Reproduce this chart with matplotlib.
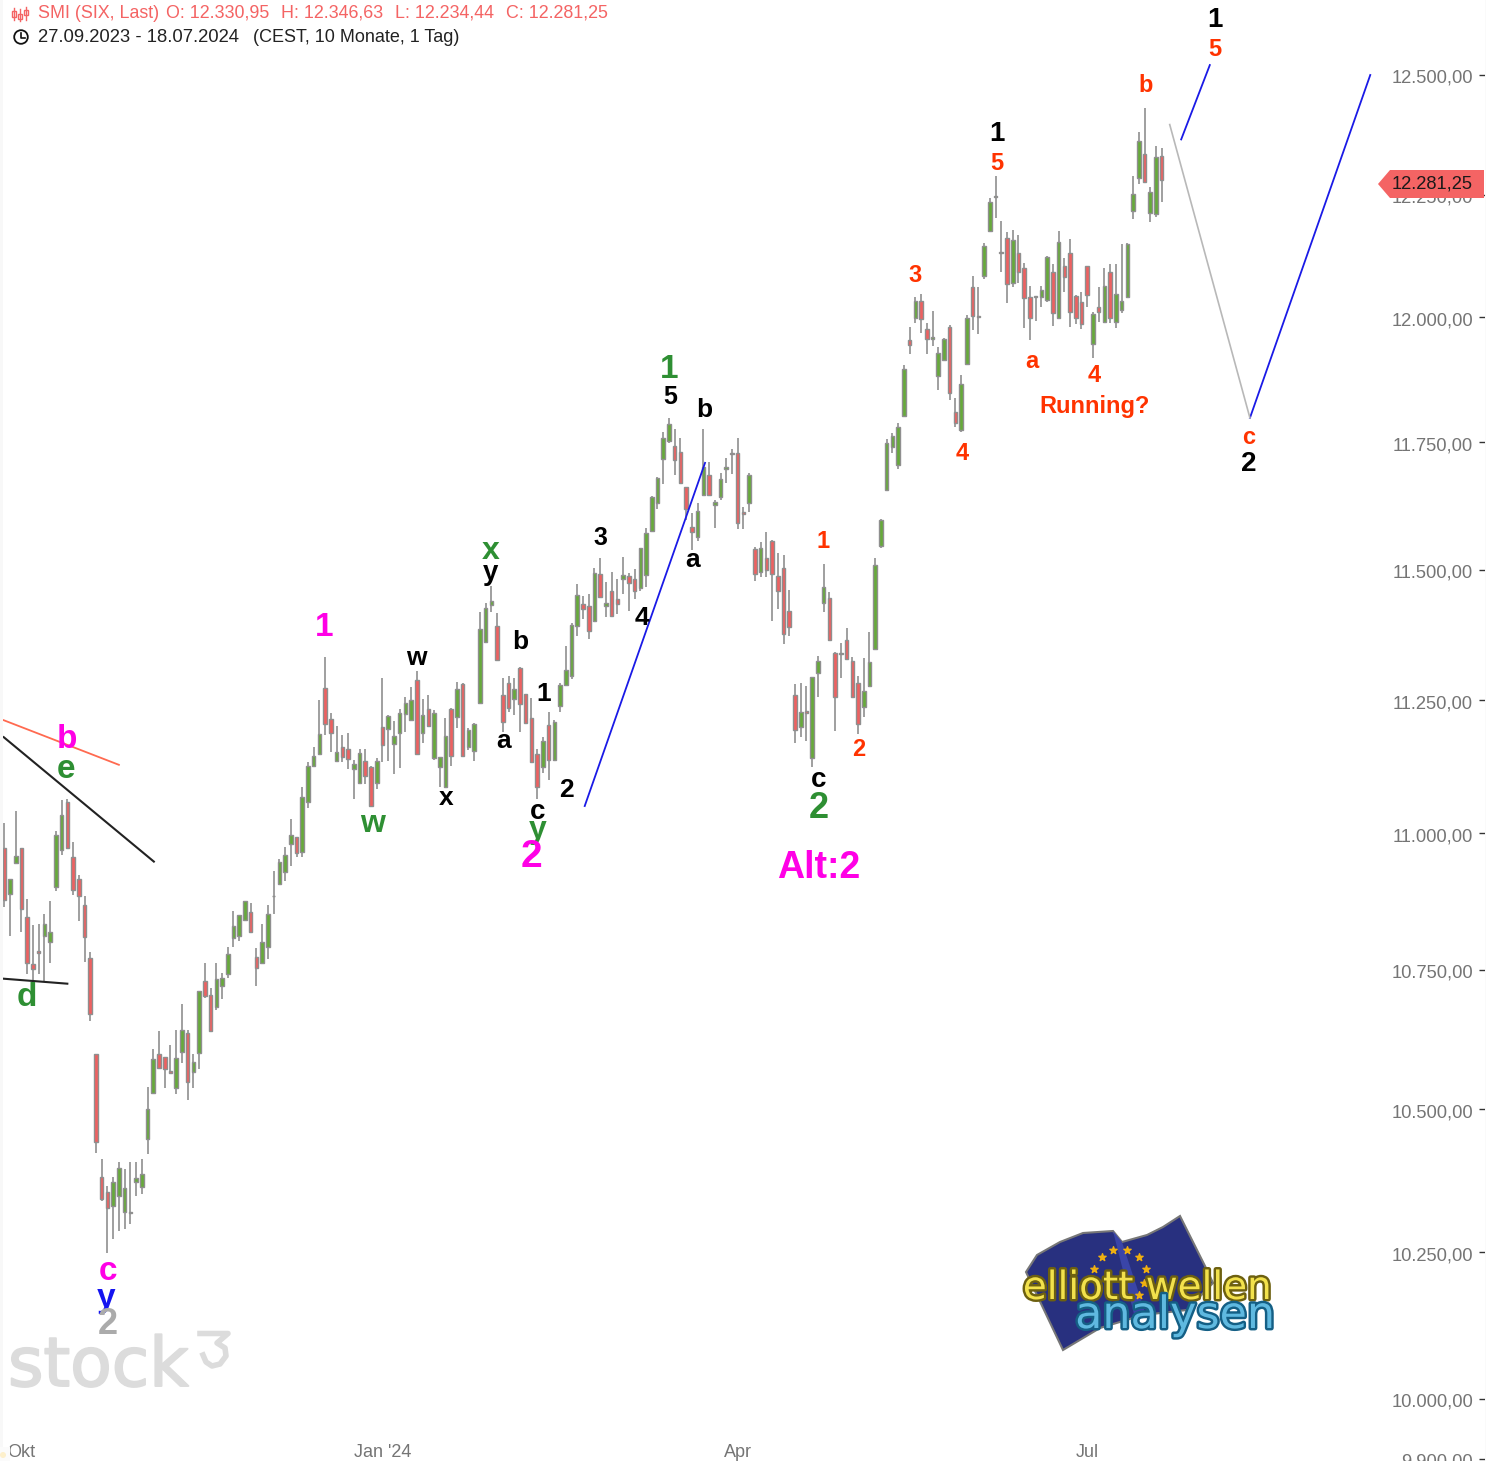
import matplotlib
matplotlib.use('Agg')
import matplotlib.pyplot as plt
import matplotlib.patheffects as pe
from matplotlib.patches import Polygon, Circle, Rectangle
from matplotlib.ticker import NullLocator
from matplotlib.transforms import ScaledTranslation
import numpy as np

W, H = 1486, 1461

# daily candles
opens = [
    10974, 10889, 10946, 10974, 10847, 10760, 10785, 10812, 10800, 10902,
    10970, 11058, 10957, 10915, 10869, 10772, 10598, 10381, 10355, 10330,
    10348, 10320, 10318, 10373, 10364, 10448, 10530, 10599, 10594, 10569,
    10538, 10603, 10637, 10567, 10601, 10729, 10705, 10683, 10720, 10743,
    10807, 10812, 10840, 10856, 10774, 10762, 10791, 10884, 10907, 10928,
    10981, 10994, 10966, 11058, 11126, 11148, 11273, 11214, 11135, 11162,
    11158, 11120, 11094, 11135, 11124, 11094, 11199, 11195, 11167, 11188,
    11224, 11212, 11288, 11188, 11233, 11141, 11124, 11086, 11233, 11218,
    11281, 11162, 11154, 11244, 11361, 11432, 11392, 11260, 11283, 11252,
    11311, 11262, 11216, 11148, 11124, 11203, 11137, 11239, 11279, 11296,
    11392, 11434, 11430, 11402, 11492, 11429, 11458, 11444, 11483, 11487,
    11483, 11465, 11489, 11576, 11630, 11717, 11753, 11743, 11731, 11662,
    11584, 11564, 11646, 11686, 11626, 11642, 11697, 11729, 11729, 11613,
    11630, 11541, 11496, 11522, 11555, 11487, 11504, 11421, 11260, 11199,
    11229, 11141, 11302, 11436, 11446, 11340, 11338, 11365, 11325, 11283,
    11237, 11277, 11348, 11547, 11656, 11741, 11705, 11802, 11953, 11999,
    12033, 11977, 11955, 11882, 11914, 11981, 11810, 11775, 11906, 12062,
    12001, 12084, 12176, 12246, 12133, 12161, 12070, 12131, 12099, 12041,
    12041, 12041, 12035, 12092, 11999, 12103, 12131, 12043, 12031, 12103,
    11945, 12021, 11991, 12092, 11991, 12015, 12041, 12217, 12284, 12334,
    12213, 12211, 12330.95,
]
highs = [
    11020, 10915, 11042, 10974, 10880, 10831, 10833, 10851, 10876, 11005,
    11062, 11064, 10985, 10924, 10884, 10783, 10599, 10413, 10366, 10381,
    10408, 10396, 10408, 10408, 10413, 10540, 10608, 10639, 10594, 10615,
    10642, 10689, 10642, 10599, 10712, 10763, 10718, 10763, 10745, 10792,
    10858, 10849, 10876, 10871, 10789, 10833, 10869, 10931, 10953, 10975,
    11027, 10994, 11086, 11133, 11162, 11250, 11333, 11226, 11201, 11184,
    11188, 11137, 11158, 11158, 11126, 11141, 11292, 11222, 11211, 11233,
    11256, 11275, 11306, 11252, 11260, 11231, 11143, 11216, 11235, 11285,
    11283, 11197, 11207, 11419, 11436, 11469, 11417, 11292, 11296, 11292,
    11313, 11262, 11254, 11158, 11180, 11228, 11212, 11283, 11354, 11398,
    11473, 11450, 11454, 11504, 11523, 11477, 11496, 11483, 11525, 11494,
    11502, 11543, 11582, 11644, 11682, 11771, 11797, 11777, 11759, 11662,
    11611, 11630, 11777, 11711, 11636, 11689, 11719, 11737, 11759, 11622,
    11689, 11545, 11553, 11574, 11558, 11533, 11529, 11461, 11281, 11283,
    11277, 11294, 11334, 11512, 11456, 11342, 11358, 11388, 11333, 11296,
    11331, 11379, 11523, 11599, 11757, 11769, 11788, 11904, 11981, 12041,
    12047, 11989, 12013, 11939, 11959, 11985, 11838, 11884, 12005, 12084,
    12062, 12152, 12244, 12290, 12196, 12174, 12178, 12168, 12111, 12064,
    12043, 12064, 12125, 12109, 12176, 12121, 12160, 12045, 12051, 12105,
    12011, 12062, 12099, 12109, 12109, 12148, 12152, 12290, 12381, 12431,
    12267, 12352, 12346.63,
]
lows = [
    10865, 10812, 10946, 10818, 10742, 10729, 10743, 10729, 10763, 10893,
    10961, 10974, 10887, 10838, 10765, 10658, 10424, 10339, 10249, 10273,
    10287, 10291, 10299, 10348, 10352, 10422, 10530, 10572, 10538, 10565,
    10528, 10583, 10517, 10538, 10571, 10700, 10639, 10678, 10698, 10736,
    10792, 10803, 10840, 10818, 10720, 10760, 10769, 10851, 10906, 10913,
    10939, 10957, 10957, 11047, 11124, 11148, 11184, 11152, 11133, 11133,
    11120, 11064, 11092, 11092, 11051, 11083, 11133, 11135, 11111, 11122,
    11190, 11211, 11147, 11169, 11199, 11137, 11086, 11086, 11126, 11197,
    11143, 11156, 11135, 11242, 11359, 11419, 11327, 11190, 11228, 11222,
    11190, 11205, 11133, 11064, 11113, 11100, 11135, 11228, 11277, 11290,
    11373, 11404, 11367, 11400, 11448, 11408, 11409, 11415, 11454, 11421,
    11444, 11459, 11467, 11576, 11619, 11668, 11749, 11686, 11670, 11597,
    11539, 11555, 11646, 11646, 11582, 11636, 11670, 11687, 11580, 11580,
    11613, 11479, 11485, 11485, 11402, 11425, 11356, 11373, 11169, 11180,
    11173, 11124, 11256, 11419, 11363, 11192, 11292, 11327, 11256, 11186,
    11218, 11275, 11348, 11543, 11656, 11729, 11697, 11800, 11926, 11989,
    11969, 11926, 11941, 11854, 11912, 11834, 11779, 11771, 11906, 11975,
    11967, 12078, 12174, 12202, 12092, 12029, 12062, 12070, 11979, 11953,
    11993, 12021, 12031, 11983, 11997, 12051, 11981, 11987, 11977, 12021,
    11918, 11991, 11989, 11989, 11979, 12009, 12041, 12201, 12273, 12275,
    12194, 12205, 12234.44,
]
closes = [
    10878, 10915, 10959, 10860, 10762, 10752, 10780, 10834, 10818, 10998,
    11034, 10974, 10895, 10884, 10809, 10671, 10443, 10343, 10327, 10373,
    10397, 10362, 10320, 10380, 10387, 10501, 10589, 10574, 10572, 10565,
    10592, 10642, 10549, 10585, 10712, 10703, 10639, 10734, 10736, 10778,
    10829, 10849, 10876, 10818, 10754, 10800, 10851, 10885, 10948, 10961,
    10998, 10964, 11068, 11126, 11145, 11186, 11205, 11188, 11152, 11143,
    11139, 11130, 11150, 11107, 11051, 11135, 11165, 11220, 11182, 11226,
    11244, 11250, 11148, 11222, 11201, 11226, 11143, 11182, 11145, 11271,
    11145, 11194, 11205, 11386, 11427, 11440, 11327, 11209, 11235, 11271,
    11242, 11207, 11133, 11086, 11173, 11137, 11209, 11279, 11308, 11394,
    11452, 11425, 11382, 11494, 11448, 11436, 11411, 11434, 11490, 11475,
    11459, 11543, 11572, 11642, 11680, 11759, 11786, 11715, 11670, 11619,
    11574, 11615, 11701, 11646, 11632, 11678, 11701, 11727, 11591, 11609,
    11686, 11492, 11543, 11500, 11492, 11459, 11377, 11390, 11194, 11228,
    11226, 11294, 11325, 11467, 11365, 11256, 11340, 11329, 11256, 11205,
    11267, 11323, 11510, 11597, 11749, 11763, 11780, 11896, 11943, 12033,
    11997, 11955, 11961, 11928, 11957, 11848, 11788, 11866, 11999, 12003,
    12003, 12144, 12236, 12248, 12131, 12068, 12158, 12092, 12039, 11999,
    12043, 12056, 12123, 12009, 12154, 12082, 12011, 11999, 11987, 12045,
    12007, 12011, 12064, 11999, 12047, 12033, 12148, 12252, 12361, 12277,
    12255, 12329, 12281.25,
]

y_ticks = [9900, 10000, 10250, 10500, 10750, 11000, 11250, 11500, 11750, 12000, 12250, 12500]
y_labels = ['9.900,00', '10.000,00', '10.250,00', '10.500,00', '10.750,00', '11.000,00',
            '11.250,00', '11.500,00', '11.750,00', '12.000,00', '12.250,00', '12.500,00']
x_ticks = [3, 66, 128, 189]
x_labels = ['Okt', "Jan '24", 'Apr', 'Jul']

# drawn lines: bar index and price at both ends
trend_lines = [
    ([-0.1, 26.1], [11180, 10948], '#222222', 1.5),
    ([-0.1, 20.0], [11212, 11128], '#ff6a50', 1.3),
    ([-0.1, 11.0], [10734, 10725], '#222222', 1.5),
    ([101.3, 122.3], [11051, 11709], '#1a1ae6', 1.3),
    ([205.4, 210.4], [12365, 12521], '#1a1ae6', 1.3),
    ([217.4, 238.4], [11798, 12500], '#1a1ae6', 1.3),
    ([203.4, 217.4], [12396, 11798], '#b8b8b8', 1.2),
]

MAG, GRN, RED, BLK, BLU, GRY = '#ff00e6', '#2e8f33', '#ff3300', '#000000', '#1414f0', '#ababab'

# wave labels: text, pixel centre, colour, size
wave_labels = [
    ('1', 325, 625, MAG, 24), ('b', 67, 738, MAG, 24), ('e', 67, 767, GRN, 24),
    ('d', 27, 996, GRN, 24), ('c', 108, 1270, MAG, 24), ('y', 107, 1297, BLU, 24),
    ('2', 108, 1322, GRY, 26), ('w', 417, 656, BLK, 19), ('w', 373, 822, GRN, 23),
    ('x', 447, 796, BLK, 19), ('x', 491, 549, GRN, 23), ('y', 491, 571, BLK, 20),
    ('b', 521, 640, BLK, 19), ('a', 504, 739, BLK, 19), ('1', 544, 692, BLK, 19),
    ('2', 567, 788, BLK, 19), ('c', 538, 810, BLK, 20), ('y', 538, 828, GRN, 23),
    ('2', 532, 855, MAG, 28), ('3', 601, 536, BLK, 18), ('4', 642, 616, BLK, 19),
    ('1', 670, 368, GRN, 24), ('5', 671, 395, BLK, 18), ('b', 705, 408, BLK, 19),
    ('a', 693, 558, BLK, 19), ('c', 819, 778, BLK, 20), ('2', 819, 806, GRN, 26),
    ('Alt:2', 819, 866, MAG, 27), ('1', 824, 539, RED, 17), ('2', 859, 747, RED, 17),
    ('3', 916, 273, RED, 17), ('4', 963, 452, RED, 17), ('1', 997, 132, BLK, 20),
    ('5', 997, 161, RED, 17), ('a', 1032, 360, RED, 17), ('4', 1095, 374, RED, 17),
    ('Running?', 1095, 404, RED, 17), ('b', 1146, 84, RED, 17), ('1', 1215, 18, BLK, 20),
    ('5', 1215, 47, RED, 17), ('c', 1249, 436, RED, 17), ('2', 1249, 462, BLK, 20),
]

plt.rcParams['font.family'] = ['Liberation Sans', 'DejaVu Sans']

fig = plt.figure(figsize=(W / 100, H / 100), dpi=100)
ax = fig.add_axes([0, 0, 1, 1])

# Candles
idx = np.arange(len(opens))
o, h, l, c = map(np.array, (opens, highs, lows, closes))
up = c >= o
ax.vlines(idx, l, h, color='#858585', lw=1.1, zorder=2)
ax.bar(idx, np.abs(c - o), bottom=np.minimum(o, c), width=0.62,
       color=np.where(up, '#66aa3a', '#ee6060'), edgecolor='#8f8f8f', linewidth=1.0, zorder=3)

# Axes
ax.set_yscale('log')
ax.set_xlim(-0.75, 258.6)
ax.set_ylim(9896, 12659)
for s in ax.spines.values():
    s.set_visible(False)
ax.yaxis.tick_right()
ax.set_yticks(y_ticks)
ax.set_yticklabels(y_labels, ha='right')
ax.yaxis.set_minor_locator(NullLocator())
ax.tick_params(axis='y', direction='in', length=5, width=1.0, color='#333333',
               pad=-9.4, labelsize=13.2, labelcolor='#757575')
for lab in ax.get_yticklabels():
    lab.set_transform(lab.get_transform() + ScaledTranslation(0, -1 / 72, fig.dpi_scale_trans))
ax.set_xticks(x_ticks)
ax.set_xticklabels(x_labels)
ax.tick_params(axis='x', length=0, pad=-12, labelsize=13, labelcolor='#757575')

# Trend lines
for xs, ys, col, lw in trend_lines:
    ax.plot(xs, ys, color=col, lw=lw, zorder=4, clip_on=False)

# overlay in picture pixels for everything that is not data
ov = fig.add_axes([0, 0, 1, 1], zorder=10)
ov.set_xlim(0, W)
ov.set_ylim(H, 0)
ov.axis('off')
ov.patch.set_alpha(0)

# pale strips at the edges
ov.add_patch(Rectangle((0, 0), 3, H, fc='#f8f8f8', ec='none'))
ov.add_patch(Rectangle((1485, 0), 1, H, fc='#fafafa', ec='none'))
ov.add_patch(Rectangle((0, 1447), 10, 14, fc='#fbfbfb', ec='none'))
ov.add_patch(Circle((3, 1455), 3, fc='#fdf0cc', ec='none'))

# Wave labels
for s, x, y, col, size in wave_labels:
    ov.text(x - 0.5, y + 2, s, color=col, fontsize=size, fontweight='bold', ha='center', va='center')

# Header
hdr_red = '#f46464'
for x, s in [(38, 'SMI (SIX, Last)'), (166, 'O: 12.330,95'), (281, 'H: 12.346,63'),
             (395, 'L: 12.234,44'), (506, 'C: 12.281,25')]:
    ov.text(x, 13.5, s, color=hdr_red, fontsize=12.9, ha='left', va='center')
ov.text(38, 38, '27.09.2023 - 18.07.2024', color='#222222', fontsize=13.3, ha='left', va='center')
ov.text(253, 38, '(CEST, 10 Monate, 1 Tag)', color='#222222', fontsize=13, ha='left', va='center')

# Header icons
ov.add_patch(Circle((21, 37), 6.8, fill=False, ec='#111111', lw=1.3))
ov.plot([21, 21, 25], [33, 38, 38], color='#111111', lw=1.2)
for ix, y0, y1, b0, b1 in [(14, 8, 20, 11, 17), (20, 9, 21, 14, 19), (26, 7, 20, 10, 15)]:
    ov.plot([ix, ix], [y0, y1], color=hdr_red, lw=1)
    ov.add_patch(Polygon([(ix - 1.6, b0), (ix + 1.6, b0), (ix + 1.6, b1), (ix - 1.6, b1)],
                         fill=False, ec=hdr_red, lw=1))

# Last price tag
ov.add_patch(Polygon([(1378, 184), (1390, 170), (1484, 170), (1484, 198), (1390, 198)],
                     fc='#f46464', ec='none'))
ov.text(1473, 184, '12.281,25', color='#1a1a1a', fontsize=13.2, ha='right', va='center')

# Watermark
ov.text(8, 1386, 'stock', color='#dcdcdc', fontsize=49, family='DejaVu Sans', ha='left', va='baseline',
        path_effects=[pe.withStroke(linewidth=1.4, foreground='#dcdcdc')])
ov.plot([200, 228, 217, 225, 226, 220, 212, 206, 203],
        [1333.5, 1333.5, 1343, 1348, 1356, 1364, 1366, 1362, 1355], color='#dcdcdc', lw=4)

# Logo
ov.add_patch(Polygon([(1026, 1272), (1037, 1255), (1060, 1242), (1083, 1233), (1113, 1231),
                      (1122, 1242), (1147, 1235), (1163, 1227), (1180, 1216), (1208, 1272),
                      (1213, 1283), (1187, 1310), (1143, 1315), (1100, 1328), (1063, 1350)],
                     fc='#28307f', ec='#777777', lw=1.5))
ov.add_patch(Polygon([(1113, 1231), (1122, 1242), (1146, 1315), (1135, 1318)],
                     fc='#3a45a8', ec='none'))
sx = [1113, 1127, 1139, 1146, 1144, 1139, 1102, 1094]
sy = [1250, 1250, 1257, 1269, 1283, 1295, 1257, 1269]
ov.scatter(sx, sy, marker='*', s=30, color='#f0b010', zorder=3)
ov.text(1147, 1299, 'elliott wellen', color='#f2e14c', fontsize=28, family='DejaVu Sans', ha='center',
        va='baseline', zorder=4, path_effects=[pe.withStroke(linewidth=3.5, foreground='#6d6010')])
ov.text(1175, 1328, 'analysen', color='#5fb9e0', fontsize=32, family='DejaVu Sans', ha='center',
        va='baseline', zorder=5, path_effects=[pe.withStroke(linewidth=3.5, foreground='#145f85')])

fig.savefig('out.png', dpi=100)
